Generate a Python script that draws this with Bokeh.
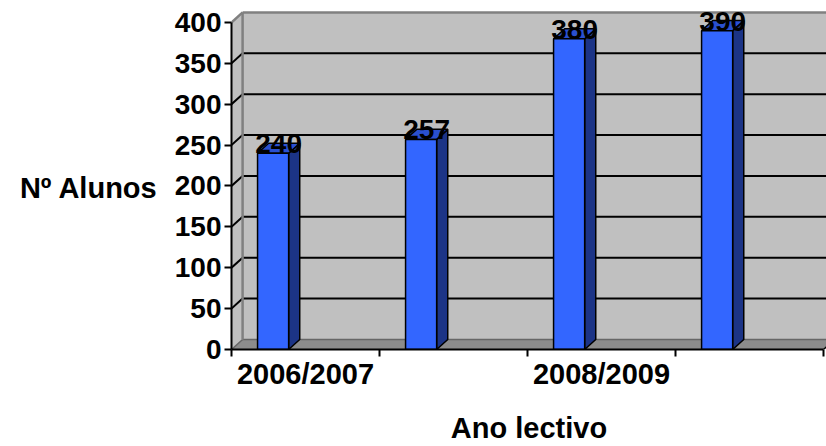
from bokeh.plotting import figure
from bokeh.models import Range1d, FixedTicker
from bokeh.core.properties import value
from bokeh.embed import file_html
from bokeh.resources import INLINE

# --- data -------------------------------------------------------------
categories = ["2006/2007", "2007/2008", "2008/2009", "2009/2010"]
alunos = [240, 257, 380, 390]
y_ticks = [0, 50, 100, 150, 200, 250, 300, 350, 400]
y_max = 400

# --- pseudo-3D geometry (category units / value units) -----------------
DX = 0.075          # depth offset along x
DY = 12.3           # depth offset along y
BAR_L = 0.176       # front face start inside each category
BAR_W = 0.21        # front face width
N = len(categories)

FONT = "Liberation Sans"
FS_TICK = "28px"
FS_TITLE = "29px"

p = figure(width=826, height=446,
           x_range=Range1d(0, 4.02), y_range=Range1d(0, 426.9),
           output_backend="svg", toolbar_location=None,
           min_border_left=231, min_border_right=0,
           min_border_top=0, min_border_bottom=97)
p.outline_line_color = None
p.background_fill_color = "white"
p.border_fill_color = "white"
p.xgrid.visible = False
p.ygrid.visible = False

wall = "#C0C0C0"
edge = "#808080"

# back wall
p.quad(left=DX, right=N + DX + 0.5, bottom=DY, top=y_max + DY,
       fill_color=wall, line_color=None)
# left side wall
p.patch([0, DX, DX, 0], [0, DY, y_max + DY, y_max],
        fill_color=wall, line_color=None)
# floor
p.patch([0, DX, N + DX, N], [0, DY, DY, 0],
        fill_color="#8C8C8C", line_color=None)
p.segment(x0=[DX], y0=[DY], x1=[N + DX], y1=[DY], line_color="#666666", line_width=1.5)
p.segment(x0=[N], y0=[0], x1=[N + DX], y1=[DY], line_color="black", line_width=1.5)
p.segment(x0=[0], y0=[0], x1=[DX], y1=[DY], line_color="#666666", line_width=1.5)

# gridlines on back wall and their continuation on the side wall
grid_vals = [v for v in y_ticks if 0 < v < y_max]
p.segment(x0=[DX] * len(grid_vals), y0=[v + DY for v in grid_vals],
          x1=[N + DX] * len(grid_vals), y1=[v + DY for v in grid_vals],
          line_color="black", line_width=2)
p.segment(x0=[0] * len(grid_vals), y0=grid_vals,
          x1=[DX] * len(grid_vals), y1=[v + DY for v in grid_vals],
          line_color="black", line_width=2)

# wall edges
p.segment(x0=[DX], y0=[DY], x1=[DX], y1=[y_max + DY], line_color=edge, line_width=2.5)
p.segment(x0=[DX], y0=[y_max + DY], x1=[N + DX], y1=[y_max + DY], line_color=edge, line_width=2.5)
p.segment(x0=[0], y0=[y_max], x1=[DX], y1=[y_max + DY], line_color=edge, line_width=2.5)

# bars: front, side and top faces
lefts = [i + BAR_L for i in range(N)]
rights = [l + BAR_W for l in lefts]
side_xs = [[r, r + DX, r + DX, r] for r in rights]
side_ys = [[0, DY, v + DY, v] for v in alunos]
top_xs = [[l, l + DX, r + DX, r] for l, r in zip(lefts, rights)]
top_ys = [[v, v + DY, v + DY, v] for v in alunos]

p.patches(side_xs, side_ys, fill_color="#1C3486", line_color="black", line_width=1.5)
p.patches(top_xs, top_ys, fill_color="#2A50D0", line_color="black", line_width=1.5)
p.quad(left=lefts, right=rights, bottom=0, top=alunos,
       fill_color="#3366FF", line_color="black", line_width=1.5)

# value labels
p.text(x=[l + BAR_W / 2 + DX / 2 for l in lefts], y=alunos,
       text=[str(v) for v in alunos],
       text_font=value(FONT), text_font_size=FS_TICK, text_font_style="bold",
       text_align="center", text_baseline="bottom", text_color="black")

# y axis
ya = p.yaxis[0]
ya.ticker = FixedTicker(ticks=y_ticks)
ya.bounds = (0, y_max)
ya.axis_line_color = "black"
ya.axis_line_width = 2
ya.major_tick_out = 7
ya.major_tick_in = 0
ya.major_tick_line_width = 2
ya.minor_tick_line_color = None
ya.major_label_standoff = 3
ya.major_label_text_font = FONT
ya.major_label_text_font_size = FS_TICK
ya.major_label_text_font_style = "bold"
ya.major_label_text_color = "black"
# leading blank line drops the horizontal title down to the 200 row
ya.axis_label = "\nNº Alunos"
ya.axis_label_orientation = "horizontal"
ya.axis_label_standoff = 14
ya.axis_label_text_line_height = 0.8
ya.axis_label_text_font = FONT
ya.axis_label_text_font_size = FS_TITLE
ya.axis_label_text_font_style = "bold"
ya.axis_label_text_color = "black"

# x axis: ticks between categories, every other category labelled
xa = p.xaxis[0]
label_pos = [i + 0.5 for i in range(0, N, 2)]
xa.ticker = FixedTicker(ticks=label_pos, minor_ticks=list(range(N + 1)))
xa.major_label_overrides = {i + 0.5: categories[i] for i in range(0, N, 2)}
xa.bounds = (0, N)
xa.axis_line_color = "black"
xa.axis_line_width = 2
xa.major_tick_out = 0
xa.major_tick_in = 0
xa.minor_tick_out = 7
xa.minor_tick_in = 0
xa.minor_tick_line_color = "black"
xa.minor_tick_line_width = 2
xa.major_label_standoff = 1
xa.major_label_text_font = FONT
xa.major_label_text_font_size = FS_TITLE
xa.major_label_text_font_style = "bold"
xa.major_label_text_color = "black"
xa.axis_label = "Ano lectivo"
xa.axis_label_standoff = 19
xa.axis_label_text_font = FONT
xa.axis_label_text_font_size = FS_TITLE
xa.axis_label_text_font_style = "bold"
xa.axis_label_text_color = "black"

open("out.html", "w").write(file_html(p, INLINE))
